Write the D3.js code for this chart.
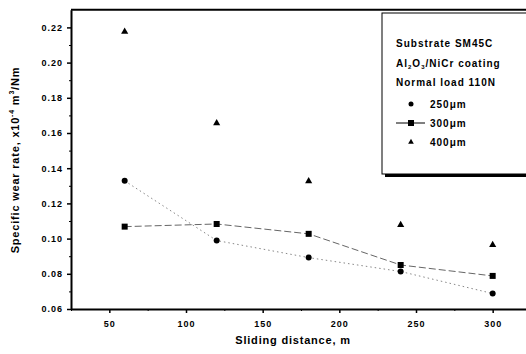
<!DOCTYPE html>
<html><head><meta charset="utf-8">
<script src="https://cdn.jsdelivr.net/npm/d3@7"></script>
<style>
body{margin:0;background:#fff;}
text{font-family:"Liberation Sans",Arial,sans-serif;font-weight:bold;fill:#000;}
</style></head>
<body><svg id="c" width="526" height="354"></svg>
<script>
const distance = [60, 120, 180, 240, 300];
const rate250 = [0.1328, 0.0989, 0.0892, 0.0813, 0.0688];
const rate300 = [0.1068, 0.1083, 0.1027, 0.0850, 0.0788];
const rate400 = [0.2176, 0.1656, 0.1326, 0.1078, 0.0964];
const yTicks = [0.06, 0.08, 0.10, 0.12, 0.14, 0.16, 0.18, 0.20, 0.22];
const xTicks = [50, 100, 150, 200, 250, 300];
const legendLines = ["Substrate SM45C", "Al₂O₃/NiCr coating", "Normal load 110N"];
const seriesNames = ["250μm", "300μm", "400μm"];

const svg = d3.select("#c");
const x = d3.scaleLinear().domain([25, 325]).range([71, 531]);
const y = d3.scaleLinear().domain([0.06, 0.23]).range([309, 9.8]);

// frame top line
svg.append("line").attr("x1", 71).attr("x2", 531).attr("y1", y(0.23)).attr("y2", y(0.23))
  .attr("stroke", "#000").attr("stroke-width", 2);

// Y axis
const yAx = svg.append("g").attr("transform", "translate(71,0)")
  .call(d3.axisLeft(y).tickValues(yTicks).tickFormat(d3.format(".2f")).tickSize(4).tickSizeOuter(0));
yAx.select(".domain").attr("stroke-width", 2);
yAx.selectAll(".tick line").attr("stroke-width", 1.5);
yAx.selectAll("text").attr("font-size", 9).attr("letter-spacing", 1).attr("dx", -1)
  .style("font-family", "Liberation Sans").style("font-weight", "bold");
svg.append("g").attr("transform", "translate(71,0)")
  .call(d3.axisLeft(y).tickValues(d3.range(0.07, 0.23, 0.02)).tickFormat("").tickSize(2).tickSizeOuter(0))
  .select(".domain").remove();

// X axis
const xAx = svg.append("g").attr("transform", "translate(0,309)")
  .call(d3.axisBottom(x).tickValues(xTicks).tickSize(4).tickSizeOuter(0).tickPadding(8));
xAx.select(".domain").attr("stroke-width", 2);
xAx.selectAll(".tick line").attr("stroke-width", 1.5);
xAx.selectAll("text").attr("font-size", 9).attr("letter-spacing", 1)
  .style("font-family", "Liberation Sans").style("font-weight", "bold");
svg.append("g").attr("transform", "translate(0,309)")
  .call(d3.axisBottom(x).tickValues([25, 75, 125, 175, 225, 275, 325]).tickFormat("").tickSize(2).tickSizeOuter(0))
  .select(".domain").remove();

// axis titles
svg.append("text").attr("x", 293).attr("y", 344).attr("text-anchor", "middle")
  .attr("font-size", 11).attr("letter-spacing", 0.8).text("Sliding distance, m");
const yt = svg.append("text").attr("transform", "translate(19,160) rotate(-90)")
  .attr("text-anchor", "middle").attr("font-size", 11).attr("letter-spacing", 0.8);
yt.append("tspan").text("Specific wear rate, x10");
yt.append("tspan").attr("font-size", 7).attr("dy", -5).text("-4");
yt.append("tspan").attr("dy", 5).text(" m");
yt.append("tspan").attr("font-size", 7).attr("dy", -5).text("3");
yt.append("tspan").attr("dy", 5).text("/Nm");

// lines
const line = d3.line().x((d, i) => x(distance[i])).y(d => y(d));
svg.append("path").attr("d", line(rate250)).attr("fill", "none")
  .attr("stroke", "#888").attr("stroke-width", 1).attr("stroke-dasharray", "1.5,3");
svg.append("path").attr("d", line(rate300)).attr("fill", "none")
  .attr("stroke", "#666").attr("stroke-width", 1).attr("stroke-dasharray", "7,3");

// markers
svg.selectAll(".c250").data(rate250).enter().append("circle")
  .attr("cx", (d, i) => x(distance[i])).attr("cy", d => y(d)).attr("r", 3).attr("fill", "#000");
svg.selectAll(".s300").data(rate300).enter().append("rect")
  .attr("x", (d, i) => x(distance[i]) - 3).attr("y", d => y(d) - 3).attr("width", 6).attr("height", 6).attr("fill", "#000");
const tri = d3.symbol().type(d3.symbolTriangle).size(22);
svg.selectAll(".t400").data(rate400).enter().append("path")
  .attr("d", tri).attr("transform", (d, i) => `translate(${x(distance[i])},${y(d)})`).attr("fill", "#000");

// legend
svg.append("rect").attr("x", 385).attr("y", 16).attr("width", 160).attr("height", 161).attr("fill", "#000");
svg.append("rect").attr("x", 382).attr("y", 13).attr("width", 160).attr("height", 161)
  .attr("fill", "#fff").attr("stroke", "#000").attr("stroke-width", 1);
const lg = svg.append("g");
legendLines.forEach((t, i) => {
  const tx = lg.append("text").attr("x", 396).attr("y", 47 + i * 19.5).attr("font-size", 10).attr("letter-spacing", 1);
  if (i === 1) {
    tx.append("tspan").text("Al");
    tx.append("tspan").attr("font-size", 6).attr("dy", 2).text("2");
    tx.append("tspan").attr("dy", -2).text("O");
    tx.append("tspan").attr("font-size", 6).attr("dy", 2).text("3");
    tx.append("tspan").attr("dy", -2).text("/NiCr coating");
  } else tx.text(t);
});
const ry = [104, 123, 142];
seriesNames.forEach((t, i) => {
  lg.append("text").attr("x", 430).attr("y", ry[i] + 3.5).attr("font-size", 10).attr("letter-spacing", 1).text(t);
});
lg.append("circle").attr("cx", 411).attr("cy", ry[0]).attr("r", 2.5).attr("fill", "#000");
lg.append("line").attr("x1", 396).attr("x2", 425).attr("y1", ry[1]).attr("y2", ry[1]).attr("stroke", "#000").attr("stroke-width", 1);
lg.append("rect").attr("x", 408).attr("y", ry[1] - 3).attr("width", 6).attr("height", 6).attr("fill", "#000");
lg.append("path").attr("d", d3.symbol().type(d3.symbolTriangle).size(14)).attr("transform", `translate(411,${ry[2]})`).attr("fill", "#000");
</script></body></html>
